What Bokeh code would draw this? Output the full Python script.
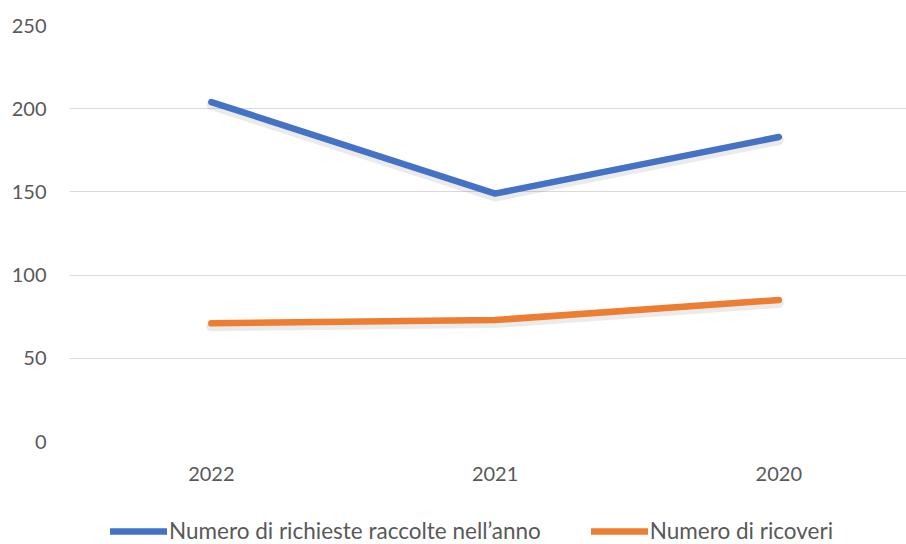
from bokeh.plotting import figure
from bokeh.models import Range1d, Legend, LegendItem, ColumnDataSource, FixedTicker
from bokeh.layouts import column
from bokeh.transform import dodge
from bokeh.embed import file_html
from bokeh.resources import INLINE

years = ["2022", "2021", "2020"]
richieste = [204, 149, 183]
ricoveri = [71, 73, 85]
y_ticks = [0, 50, 100, 150, 200, 250]
series_names = ["Numero di richieste raccolte nell\u2019anno", "Numero di ricoveri"]

BLUE = "#4472C4"
ORANGE = "#ED7D31"
FONT = "Lato"
TXT = "#595959"

x_idx = list(range(len(years)))
src = ColumnDataSource(dict(x=x_idx, a=richieste, b=ricoveri))

p = figure(width=906, height=490, output_backend="svg", toolbar_location=None,
           x_range=Range1d(-0.5, 2.45), y_range=Range1d(0, 250),
           min_border_left=69, min_border_top=25, min_border_right=0, min_border_bottom=49)
p.outline_line_color = None

# soft drop shadows
for col in ("a", "b"):
    p.line(x="x", y=dodge(col, -1.8), source=src, line_color="#000000", line_alpha=0.08,
           line_width=10, line_cap="round", line_join="round")

p.line(x="x", y="a", source=src, line_color=BLUE, line_width=6.5,
       line_cap="round", line_join="round")
p.line(x="x", y="b", source=src, line_color=ORANGE, line_width=6.5,
       line_cap="round", line_join="round")

p.xgrid.visible = False
p.ygrid.grid_line_color = "#D9D9D9"
p.ygrid.grid_line_width = 1

p.yaxis.ticker = FixedTicker(ticks=y_ticks)
p.xaxis.ticker = FixedTicker(ticks=x_idx)
p.xaxis.major_label_overrides = {i: y for i, y in enumerate(years)}

for ax in (p.xaxis[0], p.yaxis[0]):
    ax.axis_line_color = None
    ax.major_tick_line_color = None
    ax.minor_tick_line_color = None
    ax.major_label_text_font = FONT
    ax.major_label_text_font_size = "20px"
    ax.major_label_text_color = TXT
p.yaxis.major_label_standoff = 17
p.xaxis.major_label_standoff = 19

# legend strip below the chart (proxy renderers lie outside its visible range)
p2 = figure(width=906, height=54, output_backend="svg", toolbar_location=None,
            x_range=Range1d(0, 1), y_range=Range1d(0, 1),
            x_axis_location=None, y_axis_location=None,
            min_border_left=0, min_border_top=0, min_border_right=0, min_border_bottom=0)
p2.outline_line_color = None
p2.grid.visible = False
l1 = p2.line(x="x", y="a", source=src, line_color=BLUE, line_width=6.5, line_cap="round")
l2 = p2.line(x="x", y="b", source=src, line_color=ORANGE, line_width=6.5, line_cap="round")

legend = Legend(items=[LegendItem(label=series_names[0], renderers=[l1]),
                       LegendItem(label=series_names[1], renderers=[l2])],
                orientation="horizontal", location=(41, 0))
legend.label_text_font = FONT
legend.label_text_font_size = "22.5px"
legend.label_text_color = TXT
legend.glyph_width = 57
legend.glyph_height = 16
legend.label_standoff = 2
legend.spacing = 50
legend.padding = 0
legend.margin = 0
legend.border_line_color = None
legend.background_fill_alpha = 0
p2.add_layout(legend, "center")

layout = column(p, p2, spacing=0)
open("out.html", "w").write(file_html(layout, INLINE))
